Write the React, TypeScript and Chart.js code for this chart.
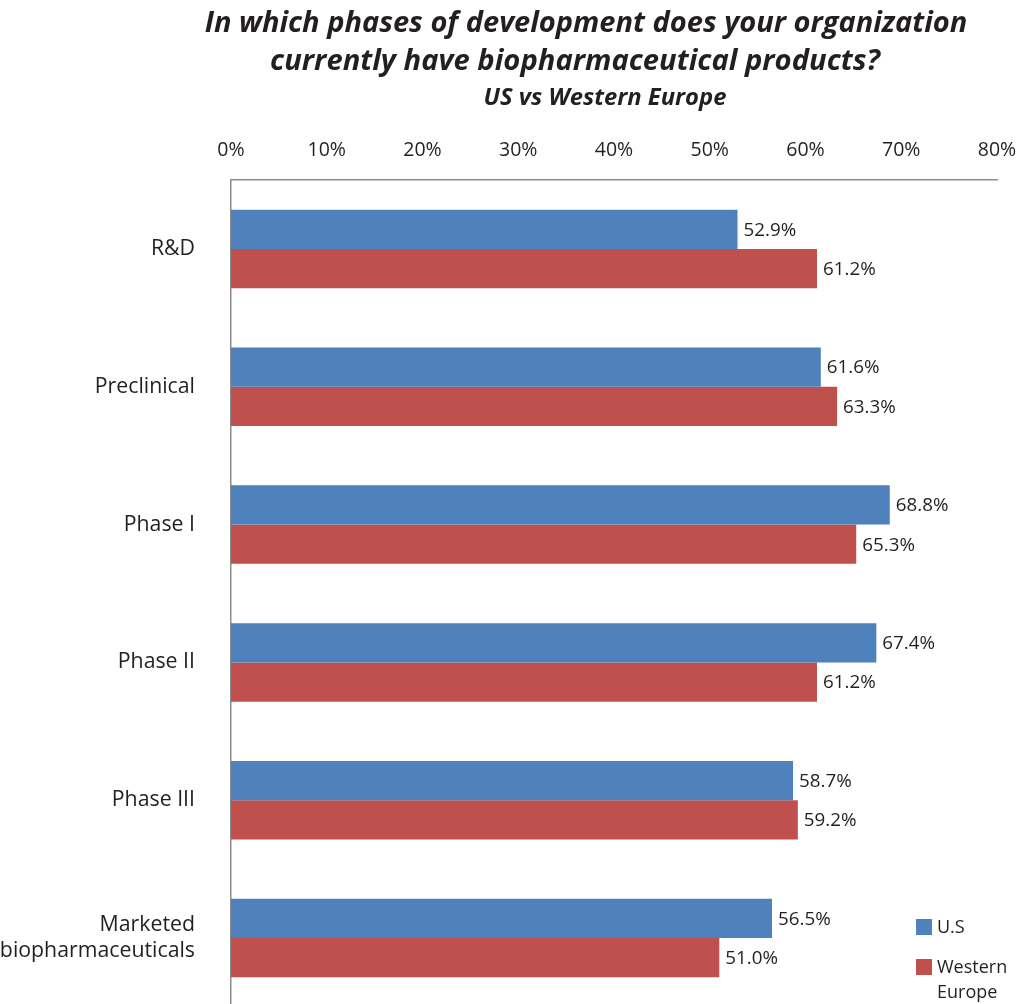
import React, { useEffect, useRef } from "react";
import { Chart, registerables } from "chart.js";

Chart.register(...registerables);

const categories: (string | string[])[] = [
  "R&D",
  "Preclinical",
  "Phase I",
  "Phase II",
  "Phase III",
  ["Marketed", "biopharmaceuticals"],
];
const usValues = [52.9, 61.6, 68.8, 67.4, 58.7, 56.5];
const euValues = [61.2, 63.3, 65.3, 61.2, 59.2, 51.0];
const seriesNames = ["U.S", "Western Europe"];
const seriesColors = ["#4F81BD", "#C0504D"];
const titleLines = [
  "In which phases of development does your organization",
  "currently have biopharmaceutical products?",
];
const subtitle = "US vs Western Europe";

const TEXT = "#231f20";
const FONT = "'Open Sans', 'Noto Sans', sans-serif";

function fitText(ctx: CanvasRenderingContext2D, text: string, target: number, style: string, x: number, y: number) {
  ctx.font = `${style} 20px ${FONT}`;
  const w = ctx.measureText(text).width;
  const size = (20 * target) / w;
  ctx.font = `${style} ${size}px ${FONT}`;
  ctx.fillText(text, x, y);
}

const titlePlugin = {
  id: "customTitle",
  afterDraw(chart: any) {
    const ctx = chart.ctx as CanvasRenderingContext2D;
    ctx.save();
    ctx.fillStyle = TEXT;
    ctx.textAlign = "center";
    ctx.textBaseline = "alphabetic";
    fitText(ctx, titleLines[0], 763, "italic bold", 586, 32);
    fitText(ctx, titleLines[1], 610, "italic bold", 575, 70);
    fitText(ctx, subtitle, 243, "italic bold", 605, 105);
    ctx.restore();
  },
};

const valueLabelPlugin = {
  id: "valueLabels",
  afterDatasetsDraw(chart: any) {
    const ctx = chart.ctx as CanvasRenderingContext2D;
    ctx.save();
    ctx.fillStyle = TEXT;
    ctx.font = `18.8px ${FONT}`;
    ctx.textAlign = "left";
    ctx.textBaseline = "middle";
    chart.data.datasets.forEach((ds: any, di: number) => {
      const meta = chart.getDatasetMeta(di);
      meta.data.forEach((bar: any, i: number) => {
        const v = ds.data[i] as number;
        ctx.fillText(v.toFixed(1) + "%", bar.x + 6, bar.y + 1);
      });
    });
    ctx.restore();
  },
};

const legendPlugin = {
  id: "customLegend",
  afterDraw(chart: any) {
    const ctx = chart.ctx as CanvasRenderingContext2D;
    ctx.save();
    ctx.font = `18px ${FONT}`;
    ctx.textAlign = "left";
    ctx.textBaseline = "middle";
    const x = 916;
    const tops = [919, 959];
    chart.data.datasets.forEach((ds: any, i: number) => {
      ctx.fillStyle = ds.backgroundColor;
      ctx.fillRect(x, tops[i], 16, 16);
      ctx.fillStyle = TEXT;
      const words = String(ds.label).split(" ");
      words.forEach((w: string, j: number) => {
        ctx.fillText(w, x + 21, tops[i] + 9 + j * 25);
      });
    });
    ctx.restore();
  },
};

export default function App() {
  const ref = useRef<HTMLCanvasElement | null>(null);
  useEffect(() => {
    if (!ref.current) return;
    const chart = new Chart(ref.current, {
      type: "bar",
      data: {
        labels: categories,
        datasets: [
          { label: seriesNames[0], data: usValues, backgroundColor: seriesColors[0], borderWidth: 0 },
          { label: seriesNames[1], data: euValues, backgroundColor: seriesColors[1], borderWidth: 0 },
        ],
      },
      options: {
        indexAxis: "y",
        responsive: false,
        animation: false,
        devicePixelRatio: 1,
        layout: { padding: { top: 120, right: 24, bottom: 3, left: 0 } },
        datasets: { bar: { barPercentage: 1, categoryPercentage: 0.57 } },
        plugins: { legend: { display: false }, title: { display: false }, tooltip: { enabled: false } },
        scales: {
          x: {
            position: "top",
            min: 0,
            max: 80,
            afterFit: (s: any) => {
              s.height = 60;
              s.paddingLeft = 0;
              s.paddingRight = 0;
            },
            grid: { display: false, drawTicks: false },
            border: { display: true, color: "#8c8c8c", width: 1.5 },
            ticks: {
              stepSize: 10,
              padding: 18,
              color: TEXT,
              font: { family: FONT, size: 19.5 },
              callback: (v: any) => v + "%",
            },
          },
          y: {
            afterFit: (s: any) => {
              s.width = 231;
              s.paddingTop = 0;
              s.paddingBottom = 0;
            },
            grid: { display: false, drawTicks: false },
            border: { display: true, color: "#8c8c8c", width: 1.5 },
            ticks: {
              padding: 36,
              color: TEXT,
              font: { family: FONT, size: 21.3, lineHeight: 1.22 },
            },
          },
        },
      },
      plugins: [valueLabelPlugin, legendPlugin, titlePlugin],
    } as any);
    return () => chart.destroy();
  }, []);
  return (
    <div style={{ position: "fixed", left: 0, top: 0, width: 1021, height: 1004, overflow: "hidden", background: "#fff" }}>
      <canvas ref={ref} width={1021} height={1010} style={{ display: "block", width: 1021, height: 1010 }} />
    </div>
  );
}
